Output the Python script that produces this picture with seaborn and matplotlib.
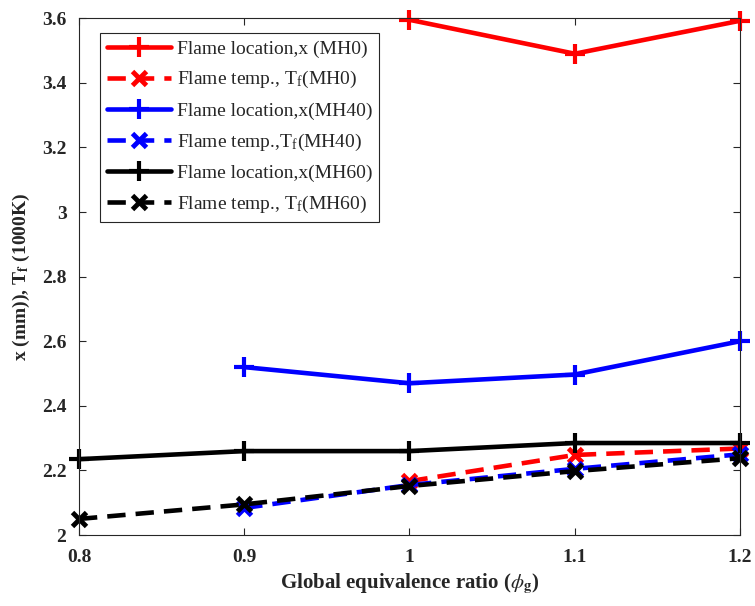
import matplotlib
matplotlib.use("Agg")
import matplotlib.pyplot as plt
import seaborn as sns
import pandas as pd

phi = [0.8, 0.9, 1.0, 1.1, 1.2]

# Flame location x (mm) and flame temperature Tf (1000 K); None where not measured
loc_mh0 = [None, None, 3.595, 3.49, 3.592]
temp_mh0 = [None, None, 2.167, 2.248, 2.268]
loc_mh40 = [None, 2.52, 2.47, 2.497, 2.60]
temp_mh40 = [None, 2.084, 2.155, 2.205, 2.25]
loc_mh60 = [2.235, 2.26, 2.26, 2.285, 2.285]
temp_mh60 = [2.05, 2.095, 2.152, 2.198, 2.238]

labels = [
    "Flame location,x (MH0)",
    "Flame temp., T$_\\mathregular{f}$(MH0)",
    "Flame location,x(MH40)",
    "Flame temp.,T$_\\mathregular{f}$(MH40)",
    "Flame location,x(MH60)",
    "Flame temp., T$_\\mathregular{f}$(MH60)",
]
series = [loc_mh0, temp_mh0, loc_mh40, temp_mh40, loc_mh60, temp_mh60]
colors = ["#ff0000", "#ff0000", "#0000ff", "#0000ff", "#000000", "#000000"]
kinds = ["loc", "temp", "loc", "temp", "loc", "temp"]

sns.set_theme(style="ticks")
plt.rcParams["font.family"] = ["Liberation Serif", "DejaVu Serif"]
plt.rcParams["mathtext.fontset"] = "stix"

fig = plt.figure(figsize=(7.55, 6.06), dpi=100)
ax = fig.add_axes([0.1046, 0.117, 0.8754, 0.853])

for vals, lab, col, kind in zip(series, labels, colors, kinds):
    df = pd.DataFrame({"phi": phi, "val": vals}).dropna()
    if kind == "loc":
        sns.lineplot(data=df, x="phi", y="val", ax=ax, color=col, lw=3.3,
                     linestyle="-", marker="+", markersize=15,
                     markeredgewidth=3.0, markeredgecolor=col,
                     markerfacecolor=col, label=lab, clip_on=False)
    else:
        sns.lineplot(data=df, x="phi", y="val", ax=ax, color=col, lw=3.3,
                     linestyle=(0, (4.0, 2.2)), marker="x", markersize=10,
                     markeredgewidth=3.5, markeredgecolor=col,
                     markerfacecolor=col, label=lab, clip_on=False)

ax.set_xlim(0.8, 1.2)
ax.set_ylim(2.0, 3.6)
ax.set_xticks([0.8, 0.9, 1.0, 1.1, 1.2])
ax.set_xticklabels(["0.8", "0.9", "1", "1.1", "1.2"])
ax.set_yticks([2.0, 2.2, 2.4, 2.6, 2.8, 3.0, 3.2, 3.4, 3.6])
ax.set_yticklabels(["2", "2.2", "2.4", "2.6", "2.8", "3", "3.2", "3.4", "3.6"])
ax.tick_params(direction="in", top=True, right=True, length=5, width=0.8,
               labelsize=14, colors="#262626")
ax.tick_params(axis="x", pad=10)
ax.tick_params(axis="y", pad=9)
for t in ax.get_xticklabels() + ax.get_yticklabels():
    t.set_fontweight("bold")
for s in ax.spines.values():
    s.set_linewidth(0.8)
    s.set_color("#262626")

ax.set_xlabel("Global equivalence ratio ($\\phi_\\mathbf{g}$)", fontsize=15,
              fontweight="bold", color="#262626", labelpad=4)
ax.set_ylabel("x (mm)), T$_\\mathbf{f}$ (1000K)", fontsize=14,
              fontweight="bold", color="#262626", labelpad=7)

leg = ax.legend(loc="upper left", bbox_to_anchor=(0.032, 0.971), fontsize=14,
                handlelength=3.3, handletextpad=0.3, labelspacing=0.6,
                borderpad=0.35, borderaxespad=0, frameon=True, fancybox=False,
                framealpha=1)
leg.get_frame().set_edgecolor("#262626")
leg.get_frame().set_linewidth(0.8)

fig.savefig("out.png", dpi=100)
